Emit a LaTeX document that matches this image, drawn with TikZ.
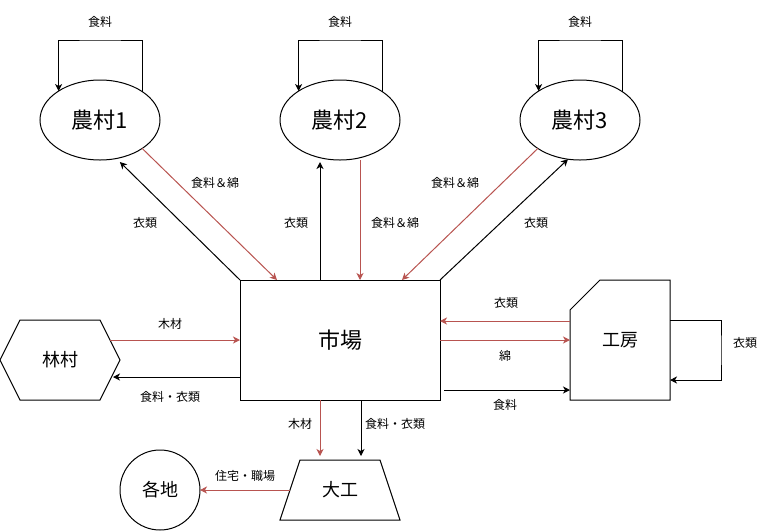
\documentclass[tikz,border=0pt]{standalone}
\usepackage{fontspec}
\setmainfont{Noto Sans CJK JP}
\usetikzlibrary{shapes.geometric,arrows.meta,calc}
\definecolor{rd}{HTML}{B85450}
\begin{document}
\begin{tikzpicture}[x=1pt,y=-1pt,
  every node/.style={inner sep=0pt,outer sep=0pt},
  shp/.style={draw,line width=1pt},
  big/.style={font=\fontsize{22}{26}\selectfont},
  mid/.style={font=\fontsize{18}{22}\selectfont},
  lbl/.style={font=\fontsize{12}{14}\selectfont},
  arr/.style={line width=1pt,-{Stealth[length=7pt,width=7pt,inset=2pt]}},
  rarr/.style={arr,rd},
]
\useasboundingbox (0,0) rectangle (771,531);
% nodes
\node[shp,ellipse,minimum width=120pt,minimum height=80pt,big] (f1) at (100,120) {農村1};
\node[shp,ellipse,minimum width=120pt,minimum height=80pt,big] (f2) at (340,120) {農村2};
\node[shp,ellipse,minimum width=120pt,minimum height=80pt,big] (f3) at (580,120) {農村3};
\node[shp,rectangle,minimum width=200pt,minimum height=120pt,big] (m) at (340,340) {市場};
\node[rectangle,minimum width=120pt,minimum height=80pt,mid] (hx) at (60,360) {林村};
\draw[line width=1pt] (hx.west) -- ([xshift=20pt]hx.north west) -- ([xshift=-20pt]hx.north east) -- (hx.east) -- ([xshift=-20pt]hx.south east) -- ([xshift=20pt]hx.south west) -- cycle;
\node[rectangle,minimum width=100pt,minimum height=120pt,mid] (wk) at (620,340) {工房};
\draw[line width=1pt] (wk.south west) -- ([yshift=-30pt]wk.north west) -- ([xshift=30pt]wk.north west) -- (wk.north east) -- (wk.south east) -- cycle;
\node[rectangle,minimum width=120pt,minimum height=60pt,mid] (dg) at (340,490) {大工};
\draw[line width=1pt] (dg.south west) -- ([xshift=20pt]dg.north west) -- ([xshift=-20pt]dg.north east) -- (dg.south east) -- cycle;
\node[shp,circle,minimum size=80pt,mid] (gc) at (160,490) {各地};
% self loops
\coordinate (t1) at (100,40);
\coordinate (t2) at (340,40);
\coordinate (t3) at (580,40);
\draw[arr] (f1.33.3) |- (t1) -| (f1.145.4);
\draw[arr] (f2.33.3) |- (t2) -| (f2.145.4);
\draw[arr] (f3.33.3) |- (t3) -| (f3.145.4);
\node[lbl] (l1) at (100,22) {食料};
\node[lbl] (l2) at (340,22) {食料};
\node[lbl] (l3) at (580,22) {食料};
% farms <-> market
\draw[arr,shorten >=5pt] (m.north west) -- (f1.-67.5);
\draw[rarr] (f1.-34) -- ([xshift=37pt]m.north west);
\draw[arr,shorten >=2pt] ([xshift=-20pt]m.north) -- ([xshift=-20pt]f2.south);
\draw[rarr] ([xshift=20pt]f2.south) -- ([xshift=20pt]m.north);
\draw[rarr] (f3.214) -- ([xshift=-38pt]m.north east);
\draw[arr] (m.north east) -- (f3.253.4);
\node[lbl] at (215,183) {食料＆綿};
\node[lbl] at (145,223) {衣類};
\node[lbl] at (296,223) {衣類};
\node[lbl] at (395,223) {食料＆綿};
\node[lbl] at (455,183) {食料＆綿};
\node[lbl] at (536,223) {衣類};
% forest village
\draw[rarr] ([xshift=-10pt,yshift=20pt]hx.east) -- (m.west);
\draw[arr,shorten >=1.5pt] ([yshift=-37pt]m.west) -- ([xshift=-8.5pt,yshift=-17pt]hx.east);
\node[lbl] at (170,324) {木材};
\node[lbl] at (170,397) {食料・衣類};
% carpenter
\draw[rarr,shorten >=4pt] ([xshift=-20pt]m.south) -- ([xshift=-20pt]dg.north);
\draw[arr,shorten >=4pt] ([xshift=21pt]m.south) -- ([xshift=21pt]dg.north);
\node[lbl] at (300,424) {木材};
\node[lbl] at (395,424) {食料・衣類};
\draw[rarr] ([xshift=10pt]dg.west) -- (gc.east);
\node[lbl] at (245,476) {住宅・職場};
% workshop
\draw[rarr] ([yshift=19pt]wk.west) -- ([yshift=19pt]m.east);
\draw[rarr] (m.east) -- (wk.west);
\draw[arr] ([xshift=4pt,yshift=-50pt]m.east) -- ([yshift=-50pt]wk.west);
\node[lbl] at (506,303) {衣類};
\node[lbl] at (505,356) {綿};
\node[lbl] at (505,405) {食料};
\coordinate (wl) at (721,350);
\draw[arr] ([yshift=20pt]wk.east) -| (wl) |- ([yshift=-40pt]wk.east);
\node[lbl] at (745,343) {衣類};
\end{tikzpicture}
\end{document}
